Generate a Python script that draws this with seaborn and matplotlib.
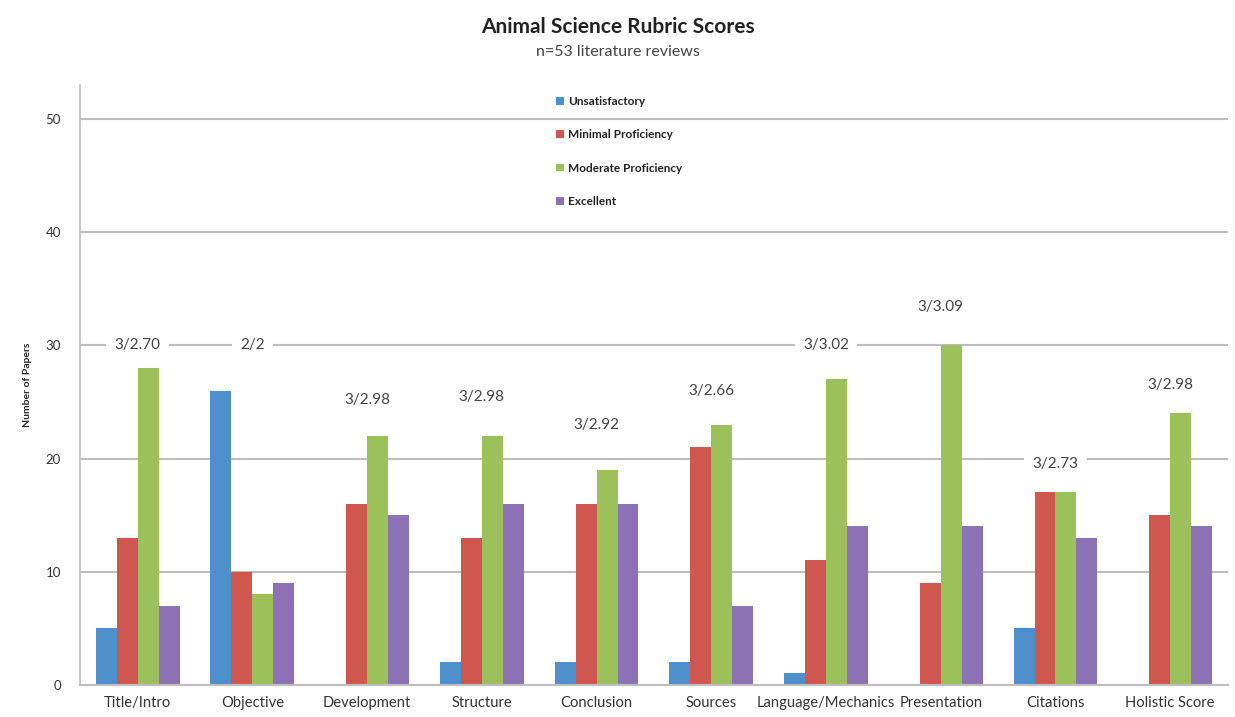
import pandas as pd
import numpy as np
import matplotlib.pyplot as plt
import seaborn as sns

# data
categories = ['Title/Intro', 'Objective', 'Development', 'Structure', 'Conclusion',
              'Sources', 'Language/Mechanics', 'Presentation', 'Citations', 'Holistic Score']
levels = ['Unsatisfactory', 'Minimal Proficiency', 'Moderate Proficiency', 'Excellent']
unsatisfactory = [5, 26, 0, 2, 2, 2, 1, 0, 5, 0]
minimal = [13, 10, 16, 13, 16, 21, 11, 9, 17, 15]
moderate = [28, 8, 22, 22, 19, 23, 27, 30, 17, 24]
excellent = [7, 9, 15, 16, 16, 7, 14, 14, 13, 14]
notes = ['3/2.70', '2/2', '3/2.98', '3/2.98', '3/2.92', '3/2.66', '3/3.02', '3/3.09', '3/2.73', '3/2.98']

# where the median/mean notes sit (layout only)
note_y = [30, 30, 25.2, 25.4, 23, 26, 30, 33.4, 19.5, 26.5]

df = pd.DataFrame({
    'category': np.repeat(categories, 4),
    'level': levels * len(categories),
    'count': np.ravel(np.column_stack([unsatisfactory, minimal, moderate, excellent])),
})

sns.set_style("white")
plt.rcParams['font.family'] = ['Lato', 'DejaVu Sans']

colors = ['#4F8FCC', '#D0574F', '#9CC05A', '#8C72B4']

fig = plt.figure(figsize=(12.35, 7.17), dpi=100)
ax = fig.add_axes([0.065, 0.045, 0.929, 0.836])

sns.barplot(data=df, x='category', y='count', hue='level', hue_order=levels,
            order=categories, palette=colors, width=0.73, saturation=1,
            linewidth=0, ax=ax, zorder=2)

ax.set_ylim(0, 53)
ax.set_xlim(-0.5, 9.5)
ax.set_yticks([0, 10, 20, 30, 40, 50])
ax.yaxis.grid(True, color='#bdbdbd', linewidth=1.5, zorder=0)
ax.set_axisbelow(True)
ax.tick_params(axis='both', length=0, labelsize=10.6, colors='#333333')
ax.tick_params(axis='x', pad=8)
ax.tick_params(axis='y', pad=14, labelsize=9.5)
for s in ['top', 'right']:
    ax.spines[s].set_visible(False)
ax.spines['left'].set_color('#bdbdbd')
ax.spines['bottom'].set_color('#bdbdbd')
ax.spines['left'].set_linewidth(1.2)
ax.spines['bottom'].set_linewidth(1.5)

ax.set_xlabel('')
ax.set_ylabel('Number of Papers', fontsize=7.5, fontweight='bold', labelpad=10)

for i, (t, y) in enumerate(zip(notes, note_y)):
    ax.text(i, y, t, ha='center', va='center', fontsize=11, color='#444444',
            bbox=dict(facecolor='white', edgecolor='none', pad=6), zorder=3)

leg = ax.legend(loc='upper center', bbox_to_anchor=(0.47, 1.0), frameon=False,
                handlelength=0.6, handleheight=0.6, handletextpad=0.4,
                labelspacing=1.9, prop={'weight': 'bold', 'size': 8.5})
for t in leg.get_texts():
    t.set_color('#222222')

fig.text(0.5, 0.962, 'Animal Science Rubric Scores', ha='center', va='center',
         fontsize=15, fontweight='bold', color='#222222')
fig.text(0.5, 0.927, 'n=53 literature reviews', ha='center', va='center',
         fontsize=11.5, color='#444444')

plt.savefig('out.png', dpi=100)
